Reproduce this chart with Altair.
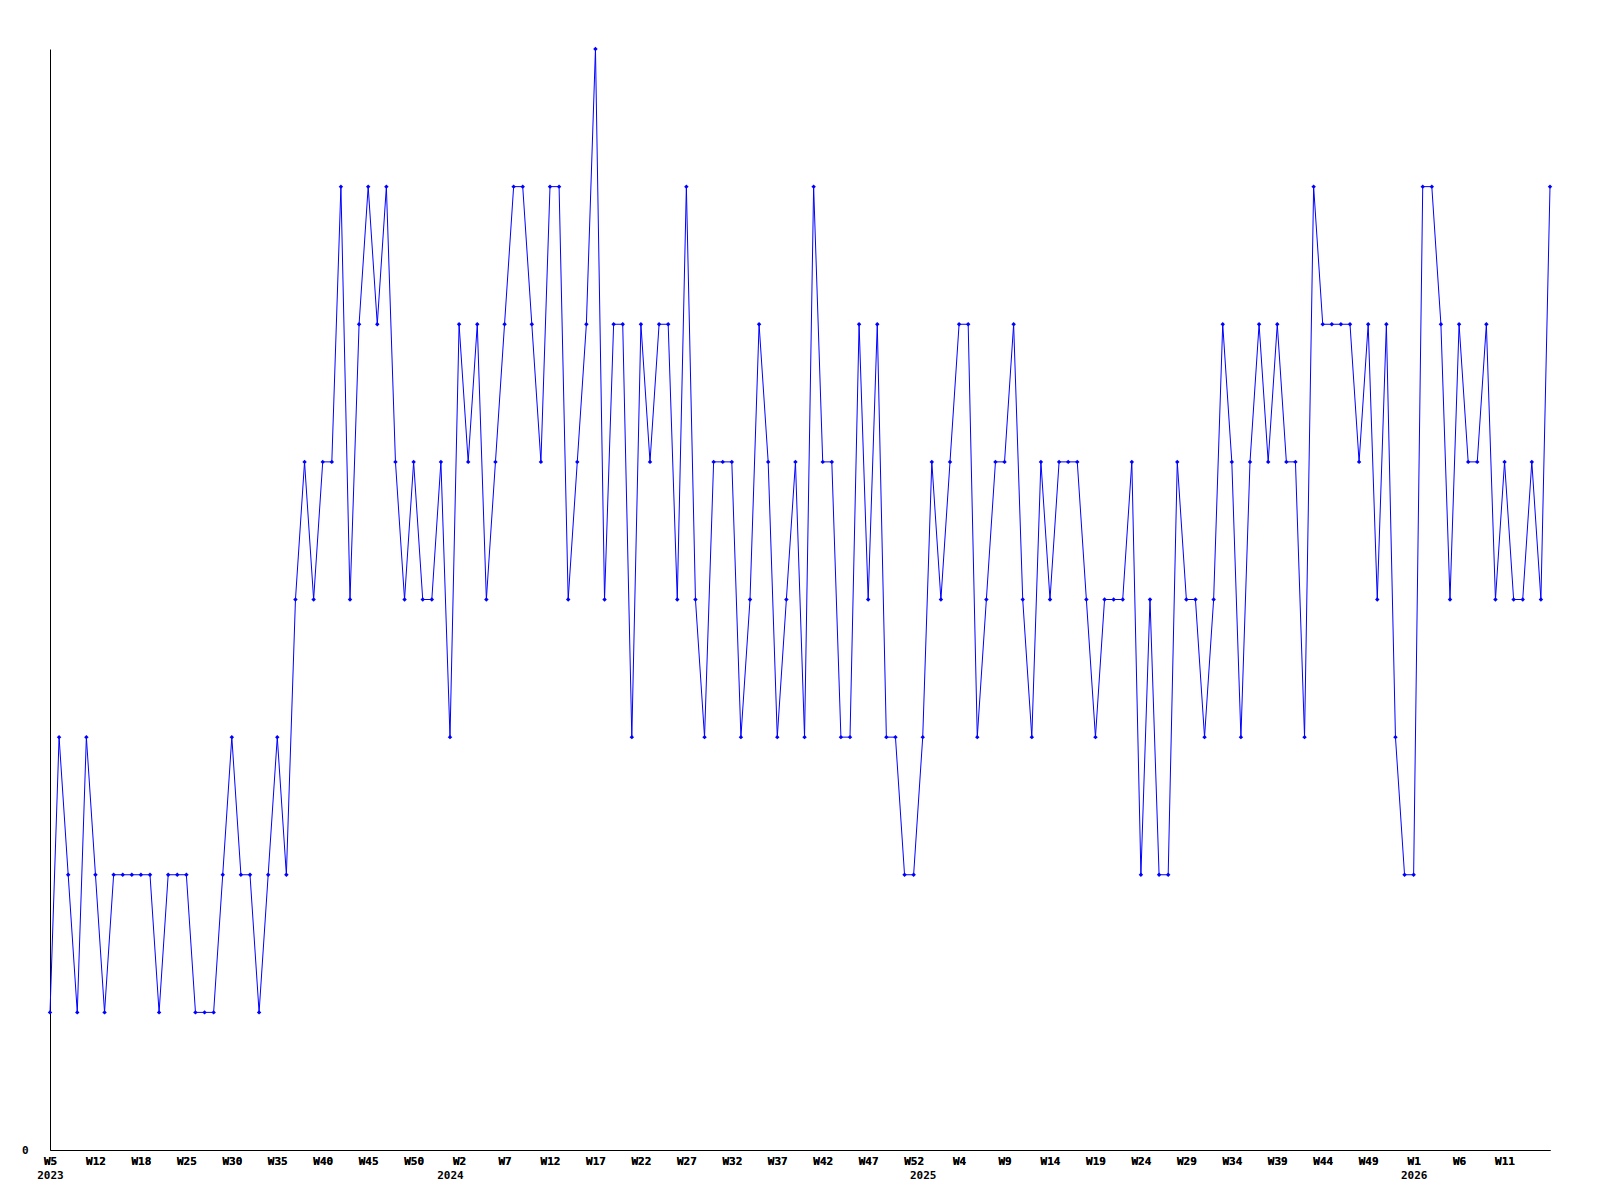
import altair as alt
import pandas as pd
import json

# weekly counts, one value per plotted point
values = [
    1, 3, 2, 1, 3, 2, 1, 2, 2, 2, 2, 2, 1, 2, 2, 2, 1, 1, 1, 2,
    3, 2, 2, 1, 2, 3, 2, 4, 5, 4, 5, 5, 7, 4, 6, 7, 6, 7, 5, 4,
    5, 4, 4, 5, 3, 6, 5, 6, 4, 5, 6, 7, 7, 6, 5, 7, 7, 4, 5, 6,
    8, 4, 6, 6, 3, 6, 5, 6, 6, 4, 7, 4, 3, 5, 5, 5, 3, 4, 6, 5,
    3, 4, 5, 3, 7, 5, 5, 3, 3, 6, 4, 6, 3, 3, 2, 2, 3, 5, 4, 5,
    6, 6, 3, 4, 5, 5, 6, 4, 3, 5, 4, 5, 5, 5, 4, 3, 4, 4, 4, 5,
    2, 4, 2, 2, 5, 4, 4, 3, 4, 6, 5, 3, 5, 6, 5, 6, 5, 5, 3, 7,
    6, 6, 6, 6, 5, 6, 4, 6, 3, 2, 2, 7, 7, 6, 4, 6, 5, 5, 6, 4,
    5, 4, 4, 5, 4, 7,
]

# week tick labels, one for every 5th point
week_labels = [
    "W5", "W12", "W18", "W25", "W30", "W35", "W40", "W45", "W50",
    "W2", "W7", "W12", "W17", "W22", "W27", "W32", "W37", "W42", "W47", "W52",
    "W4", "W9", "W14", "W19", "W24", "W29", "W34", "W39", "W44", "W49",
    "W1", "W6", "W11",
]
week_step = 5

# year labels and the point index where each year starts
year_labels = ["2023", "2024", "2025", "2026"]
year_index = [0, 44, 96, 150]

df = pd.DataFrame({"i": list(range(len(values))), "v": values})

FONT = "DejaVu Sans Mono"
xscale = alt.Scale(domain=[0, len(values) - 1], nice=False, zero=False)
yscale = alt.Scale(domain=[0, 8], nice=False)

week_expr = "%s[round(datum.value / %d)]" % (json.dumps(week_labels), week_step)
year_expr = "%s[indexof(%s, datum.value)]" % (json.dumps(year_labels), json.dumps(year_index))

x_axis = alt.Axis(
    values=[k * week_step for k in range(len(week_labels))],
    labelExpr=week_expr, title=None, ticks=False, grid=False,
    domainColor="black", domainWidth=1, labelFont=FONT, labelFontWeight="bold",
    labelFontSize=11, labelColor="black", labelPadding=5,
    labelOverlap=False, labelFlush=False, labelBound=False, orient="bottom",
)
year_axis = alt.Axis(
    values=year_index, labelExpr=year_expr, title=None, ticks=False, grid=False,
    domain=False, labelFont=FONT, labelFontWeight="bold", labelFontSize=11,
    labelColor="black", labelPadding=19, labelOverlap=False, labelFlush=False,
    labelBound=False, orient="bottom",
)
y_axis = alt.Axis(
    values=[0], title=None, ticks=False, grid=False, domainColor="black",
    domainWidth=1, labelFont=FONT, labelFontWeight="bold", labelFontSize=11,
    labelColor="black", labelPadding=22, orient="left",
)

line = alt.Chart(df).mark_line(color="#0000ff", strokeWidth=1, clip=False).encode(
    x=alt.X("i:Q", scale=xscale, axis=x_axis),
    y=alt.Y("v:Q", scale=yscale, axis=y_axis),
)
pts = alt.Chart(df).mark_point(shape="diamond", filled=True, color="#0000ff",
                               size=20, opacity=1).encode(
    x=alt.X("i:Q", scale=xscale, axis=x_axis),
    y=alt.Y("v:Q", scale=yscale, axis=y_axis),
)
years = alt.Chart(df).mark_point(opacity=0).encode(
    x=alt.X("i:Q", scale=xscale, axis=year_axis),
    y=alt.Y("v:Q", scale=yscale, axis=y_axis),
)

chart = (
    alt.layer(line, pts, years)
    .resolve_axis(x="independent", y="shared")
    .properties(
        width=1500, height=1101,
        autosize=alt.AutoSizeParams(type="none"),
        padding={"left": 42, "top": 41, "right": 42, "bottom": 42},
        background="white",
    )
    .configure_view(stroke=None)
)

chart.save("out.html", embed_options={"renderer": "svg", "actions": False})
